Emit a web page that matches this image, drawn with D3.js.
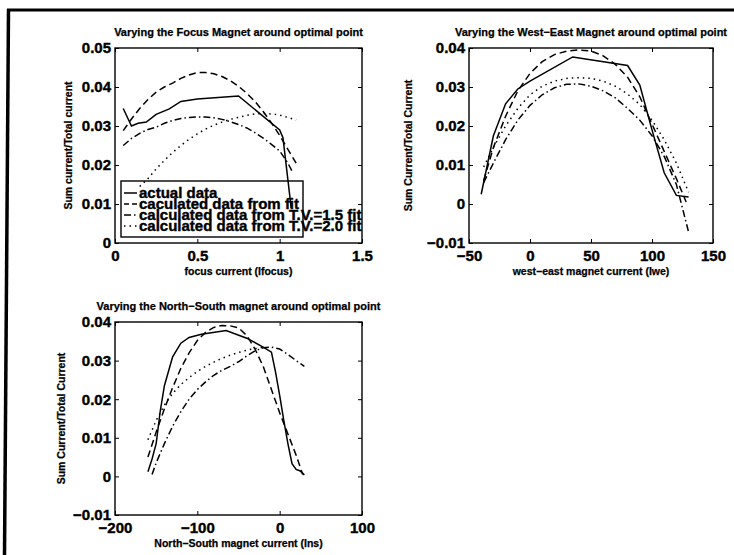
<!DOCTYPE html>
<html>
<head>
<meta charset="utf-8">
<style>
  body { margin: 0; background: white; }
  svg { display: block; }
  text { font-family: "Liberation Sans", Arial, Helvetica, sans-serif; font-weight: bold; fill: black; stroke: black; stroke-width: 0.25px; }
  .tick text { font-size: 15px; stroke-width: 0.4px; }
  .title { font-size: 11px; }
  .label { font-size: 10.5px; }
  .legend text { font-size: 15px; stroke-width: 0.4px; }
  .box { fill: none; stroke: black; stroke-width: 1.4px; }
  .series { fill: none; stroke: black; stroke-width: 1.5px; }
  .domain { display: none; }
  .tick line { stroke: black; stroke-width: 1px; }
</style>
</head>
<body>
<svg width="734" height="555"></svg>
<script src="https://d3js.org/d3.v7.min.js"></script>
<script>

// ---- data: focus magnet ----
var focusActual = [[0.05,0.0345],[0.10,0.0300],[0.14,0.0307],[0.19,0.0310],[0.25,0.0330],[0.33,0.0344],
  [0.40,0.0363],[0.50,0.0369],[0.75,0.0377],[1.00,0.0290],[1.02,0.0270],[1.07,0.0090]];
var focusFit = [[0.05,0.0288],[0.10,0.0318],[0.15,0.0345],[0.20,0.0368],[0.25,0.0387],[0.30,0.0400],
  [0.35,0.0410],[0.40,0.0422],[0.45,0.0431],[0.50,0.0437],[0.55,0.0437],[0.60,0.0434],[0.65,0.0427],
  [0.70,0.0416],[0.75,0.0402],[0.80,0.0384],[0.85,0.0363],[0.90,0.0337],[0.95,0.0308],[1.00,0.0276],
  [1.05,0.0240],[1.10,0.0205]];
var focusTV15 = [[0.05,0.0250],[0.10,0.0268],[0.15,0.0281],[0.20,0.0291],[0.25,0.0297],[0.30,0.0307],
  [0.35,0.0314],[0.40,0.0319],[0.45,0.0322],[0.50,0.0323],[0.55,0.0323],[0.60,0.0321],[0.65,0.0317],
  [0.70,0.0311],[0.75,0.0304],[0.80,0.0295],[0.85,0.0283],[0.90,0.0269],[0.95,0.0253],[1.00,0.0236],
  [1.05,0.0205],[1.08,0.0180]];
var focusTV20 = [[0.15,0.0145],[0.20,0.0165],[0.25,0.0190],[0.30,0.0212],[0.35,0.0232],[0.40,0.0250],
  [0.45,0.0266],[0.50,0.0280],[0.55,0.0292],[0.60,0.0302],[0.65,0.0310],[0.70,0.0317],[0.75,0.0322],
  [0.80,0.0327],[0.85,0.0331],[0.90,0.0332],[0.95,0.0331],[1.00,0.0328],[1.05,0.0322],[1.10,0.0315]];

// ---- data: west-east magnet ----
var weActual = [[-40,0.0025],[-35,0.0100],[-30,0.0175],[-20,0.0257],[-10,0.0295],[0,0.0315],
  [35,0.0377],[80,0.0355],[90,0.0305],[100,0.0190],[110,0.0080],[120,0.0022],[130,0.0018]];
var weFit = [[-38,0.0060],[-30,0.0145],[-20,0.0225],[-10,0.0290],[0,0.0335],[10,0.0365],[20,0.0383],
  [30,0.0392],[40,0.0395],[50,0.0392],[60,0.0380],[70,0.0358],[80,0.0325],[90,0.0275],[100,0.0205],
  [110,0.0135],[120,0.0065],[128,0.0005]];
var weTV15 = [[-38,0.0055],[-30,0.0105],[-20,0.0165],[-10,0.0215],[0,0.0253],[10,0.0280],[20,0.0298],
  [30,0.0307],[40,0.0308],[50,0.0302],[60,0.0290],[70,0.0272],[80,0.0245],[90,0.0215],[100,0.0175],
  [110,0.0122],[120,0.0050],[130,-0.0072]];
var weTV20 = [[-38,0.0095],[-30,0.0145],[-20,0.0200],[-10,0.0245],[0,0.0280],[10,0.0302],[20,0.0315],
  [30,0.0322],[40,0.0324],[50,0.0322],[60,0.0315],[70,0.0302],[80,0.0282],[90,0.0255],[100,0.0215],
  [110,0.0165],[120,0.0105],[130,0.0030]];

// ---- data: north-south magnet ----
var nsActual = [[-160,0.0012],[-155,0.0045],[-150,0.0085],[-145,0.0170],[-140,0.0235],[-130,0.0310],
  [-120,0.0345],[-110,0.0360],[-95,0.0368],[-65,0.0378],[-40,0.0358],[-20,0.0335],[-10,0.0322],
  [-5,0.0270],[0,0.0210],[5,0.0145],[10,0.0085],[15,0.0033],[20,0.0018],[25,0.0014],[30,0.0004]];
var nsFit = [[-160,0.0050],[-150,0.0115],[-140,0.0175],[-130,0.0230],[-120,0.0280],[-110,0.0320],
  [-100,0.0352],[-90,0.0373],[-80,0.0386],[-70,0.0391],[-60,0.0390],[-50,0.0385],[-40,0.0365],
  [-30,0.0330],[-20,0.0285],[-10,0.0225],[0,0.0165],[10,0.0110],[20,0.0055],[28,0.0005]];
var nsTV15 = [[-155,0.0005],[-150,0.0035],[-140,0.0085],[-130,0.0130],[-120,0.0168],[-110,0.0200],
  [-100,0.0225],[-90,0.0245],[-80,0.0262],[-70,0.0275],[-60,0.0285],[-50,0.0297],[-40,0.0312],
  [-30,0.0325],[-20,0.0333],[-10,0.0335],[0,0.0330],[10,0.0316],[20,0.0300],[30,0.0285]];
var nsTV20 = [[-160,0.0095],[-150,0.0145],[-140,0.0185],[-130,0.0215],[-120,0.0238],[-110,0.0256],
  [-100,0.0272],[-90,0.0285],[-80,0.0296],[-70,0.0306],[-60,0.0314],[-50,0.0321],[-40,0.0327],
  [-30,0.0331],[-20,0.0334]];

// ---- tick values ----
var focusXTicks = [0, 0.5, 1, 1.5];
var focusYTicks = [0, 0.01, 0.02, 0.03, 0.04, 0.05];
var weXTicks = [-50, 0, 50, 100, 150];
var weYTicks = [-0.01, 0, 0.01, 0.02, 0.03, 0.04];
var nsXTicks = [-200, -100, 0, 100];
var nsYTicks = [-0.01, 0, 0.01, 0.02, 0.03, 0.04];

var legendLabels = ["actual data", "caculated data from fit",
  "calculated data from T.V.=1.5 fit", "calculated data from T.V.=2.0 fit"];

var dashes = ["none", "7,4", "7,3,1.5,3", "1.5,4"];

var svg = d3.select("svg");

// scanned page frame
svg.append("line").attr("x1", 7).attr("x2", 734).attr("y1", 10).attr("y2", 10)
  .attr("stroke", "black").attr("stroke-width", 3);
svg.append("line").attr("x1", 8.5).attr("x2", 4.5).attr("y1", 9).attr("y2", 555)
  .attr("stroke", "black").attr("stroke-width", 3.5);

function fmt(d) {
  if (d === 0) return "0";
  return String(+d.toFixed(4)).replace("-", "\u2212");
}

var panels = [
  { left: 115, right: 362, top: 48, bottom: 243, xDom: [0, 1.5], yDom: [0, 0.05],
    xTicks: focusXTicks, yTicks: focusYTicks, series: [focusActual, focusFit, focusTV15, focusTV20],
    title: "Varying the Focus Magnet around optimal point", xlabel: "focus current (Ifocus)",
    ylabel: "Sum current/Total current", ylabelX: 72, legend: true },
  { left: 469, right: 713, top: 48, bottom: 243, xDom: [-50, 150], yDom: [-0.01, 0.04],
    xTicks: weXTicks, yTicks: weYTicks, series: [weActual, weFit, weTV15, weTV20],
    title: "Varying the West\u2212East Magnet around optimal point", xlabel: "west\u2212east magnet current (Iwe)",
    ylabel: "Sum Current/Total Current", ylabelX: 412, legend: false },
  { left: 115, right: 362, top: 322, bottom: 515, xDom: [-200, 100], yDom: [-0.01, 0.04],
    xTicks: nsXTicks, yTicks: nsYTicks, series: [nsActual, nsFit, nsTV15, nsTV20],
    title: "Varying the North\u2212South magnet around optimal point", xlabel: "North\u2212South magnet current (Ins)",
    ylabel: "Sum Current/Total Current", ylabelX: 65, legend: false }
];

panels.forEach(function(p) {
  var x = d3.scaleLinear().domain(p.xDom).range([p.left, p.right]);
  var y = d3.scaleLinear().domain(p.yDom).range([p.bottom, p.top]);
  var g = svg.append("g");

  g.append("g").attr("transform", "translate(0," + p.bottom + ")")
    .call(d3.axisBottom(x).tickValues(p.xTicks).tickFormat(fmt).tickSizeInner(-4).tickSizeOuter(0).tickPadding(7));
  g.append("g").attr("transform", "translate(0," + p.top + ")")
    .call(d3.axisTop(x).tickValues(p.xTicks).tickFormat("").tickSizeInner(-4).tickSizeOuter(0));
  g.append("g").attr("transform", "translate(" + p.left + ",0)")
    .call(d3.axisLeft(y).tickValues(p.yTicks).tickFormat(fmt).tickSizeInner(-4).tickSizeOuter(0).tickPadding(4));
  g.append("g").attr("transform", "translate(" + p.right + ",0)")
    .call(d3.axisRight(y).tickValues(p.yTicks).tickFormat("").tickSizeInner(-4).tickSizeOuter(0));

  g.append("rect").attr("class", "box")
    .attr("x", p.left).attr("y", p.top)
    .attr("width", p.right - p.left).attr("height", p.bottom - p.top);

  var line = d3.line().x(function(d) { return x(d[0]); }).y(function(d) { return y(d[1]); });

  p.series.forEach(function(s, i) {
    g.append("path").datum(s).attr("class", "series")
      .attr("stroke-dasharray", dashes[i])
      .attr("d", line);
  });

  var cx = (p.left + p.right) / 2;
  g.append("text").attr("class", "title").attr("x", cx).attr("y", p.top - 12)
    .attr("text-anchor", "middle").text(p.title);
  g.append("text").attr("class", "label").attr("x", cx).attr("y", p.bottom + 32)
    .attr("text-anchor", "middle").text(p.xlabel);
  g.append("text").attr("class", "label")
    .attr("transform", "translate(" + p.ylabelX + "," + ((p.top + p.bottom) / 2) + ") rotate(-90)")
    .attr("text-anchor", "middle").text(p.ylabel);

  if (p.legend) {
    var lg = g.append("g").attr("class", "legend");
    lg.append("rect").attr("x", 121).attr("y", 181).attr("width", 182).attr("height", 56)
      .attr("fill", "none").attr("stroke", "black").attr("stroke-width", 1.4);
    legendLabels.forEach(function(t, i) {
      var cy = 193 + i * 11;
      lg.append("line").attr("x1", 124).attr("x2", 137).attr("y1", cy).attr("y2", cy)
        .attr("stroke", "black").attr("stroke-width", 1.5).attr("stroke-dasharray", dashes[i] === "none" ? null : dashes[i].replace("7,4", "5,3"));
      lg.append("text").attr("x", 139).attr("y", cy + 5).text(t);
    });
  }
});

</script>
</body>
</html>
